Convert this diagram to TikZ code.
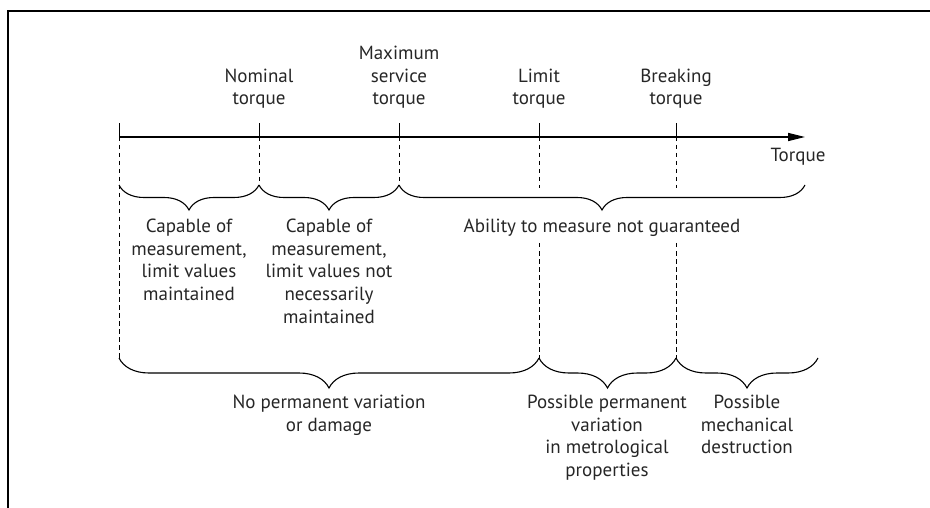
\documentclass[tikz,border=0pt]{standalone}
\usepackage{fontspec}
\setmainfont{PT Sans}
\usetikzlibrary{arrows.meta,decorations.pathreplacing}

\tikzstyle{frame}=[line width=1.6pt]
\tikzstyle{axis}=[line width=1.3pt, -{Triangle[length=17pt,width=8pt]}]
\tikzstyle{tick}=[line width=1pt]
\tikzstyle{guide}=[line width=0.9pt, dash pattern=on 4.5pt off 3.5pt]
\tikzstyle{upbrace}=[line width=1.1pt, decorate, decoration={brace, mirror, amplitude=25pt}]
\tikzstyle{lowbrace}=[line width=1.1pt, decorate, decoration={brace, mirror, amplitude=30pt}]
\tikzstyle{caption}=[align=center, inner sep=0pt, text=black!85, font=\fontsize{19}{22.6}\selectfont]

\begin{document}
\begin{tikzpicture}[x=1pt, y=-1pt]
      \useasboundingbox (0,0) rectangle (930,508);
      \draw[frame] (930,11) -| (8,508);

      % points on the torque axis
      \coordinate (start) at (119,137);
      \coordinate (nom) at (259,137);
      \coordinate (max) at (399,137);
      \coordinate (lim) at (539,137);
      \coordinate (brk) at (676,137);
      \coordinate (end) at (805,137);

      % brace ends
      \coordinate (u0) at (119,185);
      \coordinate (u1) at (259,185);
      \coordinate (u2) at (399,185);
      \coordinate (u3) at (805,185);
      \coordinate (l0) at (119,358);
      \coordinate (l1) at (539,358);
      \coordinate (l2) at (676,358);
      \coordinate (l3) at (818,358);
      \coordinate (lim a) at (539,188);
      \coordinate (lim b) at (539,243);
      \coordinate (brk a) at (676,188);
      \coordinate (brk b) at (676,243);

      \draw[axis] (start) -- (end);
      \foreach \t in {start, nom, max, lim, brk}
        \draw[tick] (\t) -- ++(0,-14);

      \draw[guide] (start) -- (l0);
      \draw[guide] (nom) -- (u1);
      \draw[guide] (max) -- (u2);
      \draw[guide] (lim) -- (lim a);
      \draw[guide] (lim b) -- (l1);
      \draw[guide] (brk) -- (brk a);
      \draw[guide] (brk b) -- (l2);

      \draw[upbrace] (u0) -- (u1);
      \draw[upbrace] (u1) -- (u2);
      \draw[upbrace] (u2) -- (u3);
      \draw[lowbrace] (l0) -- (l1);
      \draw[lowbrace] (l1) -- (l2);
      \draw[lowbrace] (l2) -- (l3);

      \node[caption, anchor=south] (nomtxt) at (259,109) {Nominal\\torque};
      \node[caption, anchor=south] (maxtxt) at (399,109) {Maximum\\service\\torque};
      \node[caption, anchor=south] (limtxt) at (539,109) {Limit\\torque};
      \node[caption, anchor=south] (brktxt) at (676,109) {Breaking\\torque};
      \node[caption, anchor=base] (torquetxt) at (798,162) {Torque};

      \node[caption, anchor=north] (capable) at (189,219) {Capable of\\measurement,\\limit values\\maintained};
      \node[caption, anchor=north] (capablenot) at (329,219) {Capable of\\measurement,\\limit values not\\necessarily\\maintained};
      \node[caption, anchor=north] (ability) at (602,219) {Ability to measure not guaranteed};

      \node[caption, anchor=north] (nodamage) at (329,395) {No permanent variation\\or damage};
      \node[caption, anchor=north] (variation) at (607,395) {Possible permanent\\variation\\in metrological\\properties};
      \node[caption, anchor=north] (destruction) at (747,395) {Possible\\mechanical\\destruction};
    \end{tikzpicture}
\end{document}
